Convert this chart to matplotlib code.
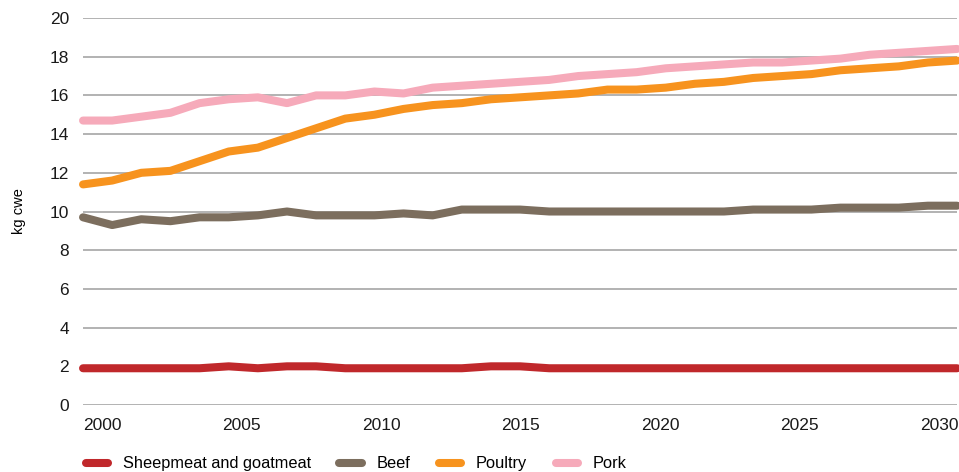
import numpy as np
import matplotlib.pyplot as plt

plt.rcParams['font.family'] = ['Liberation Sans', 'DejaVu Sans']

# Per capita meat consumption, kg cwe
years = list(range(2000, 2031))
sheep = [1.9, 1.9, 1.9, 1.9, 1.9, 2.0, 1.9, 2.0, 2.0, 1.9, 1.9, 1.9, 1.9, 1.9, 2.0, 2.0,
         1.9, 1.9, 1.9, 1.9, 1.9, 1.9, 1.9, 1.9, 1.9, 1.9, 1.9, 1.9, 1.9, 1.9, 1.9]
beef = [9.7, 9.3, 9.6, 9.5, 9.7, 9.7, 9.8, 10.0, 9.8, 9.8, 9.8, 9.9, 9.8, 10.1, 10.1, 10.1,
        10.0, 10.0, 10.0, 10.0, 10.0, 10.0, 10.0, 10.1, 10.1, 10.1, 10.2, 10.2, 10.2, 10.3, 10.3]
poultry = [11.4, 11.6, 12.0, 12.1, 12.6, 13.1, 13.3, 13.8, 14.3, 14.8, 15.0, 15.3, 15.5, 15.6, 15.8, 15.9,
           16.0, 16.1, 16.3, 16.3, 16.4, 16.6, 16.7, 16.9, 17.0, 17.1, 17.3, 17.4, 17.5, 17.7, 17.8]
pork = [14.7, 14.7, 14.9, 15.1, 15.6, 15.8, 15.9, 15.6, 16.0, 16.0, 16.2, 16.1, 16.4, 16.5, 16.6, 16.7,
        16.8, 17.0, 17.1, 17.2, 17.4, 17.5, 17.6, 17.7, 17.7, 17.8, 17.9, 18.1, 18.2, 18.3, 18.4]

series = [
    ('Sheepmeat and goatmeat', sheep, '#C0282B'),
    ('Beef', beef, '#7C6E5E'),
    ('Poultry', poultry, '#F7931E'),
    ('Pork', pork, '#F6AABA'),
]

tick_years = [2000, 2005, 2010, 2015, 2020, 2025, 2030]

fig = plt.figure(figsize=(9.59, 4.72), dpi=100)
ax = fig.add_axes([0.0866, 0.1419, 0.9114, 0.82])

for name, vals, col in series:
    ax.plot(years, vals, color=col, lw=5.8, solid_capstyle='round',
            solid_joinstyle='round', label=name, clip_on=False, zorder=3)

ax.set_xlim(2000, 2030)
ax.set_ylim(0, 20)
ax.set_yticks(range(0, 21, 2))
# labels in the original sit slightly off the data points
tick_pos = [2000.65 + 0.958 * (y - 2000) for y in tick_years]
ax.set_xticks(tick_pos, [str(y) for y in tick_years])

ax.grid(axis='y', color='#A6A6A6', lw=1.2)
ax.set_axisbelow(True)
for s in ax.spines.values():
    s.set_visible(False)
ax.tick_params(axis='both', length=0, labelsize=12.5, colors='#1a1a1a')
ax.tick_params(axis='y', pad=10)
ax.tick_params(axis='x', pad=9)
ax.set_ylabel('kg cwe', fontsize=10.5, labelpad=17)

leg = fig.legend(loc='lower left', bbox_to_anchor=(0.074, -0.03), ncol=4, frameon=False,
                 fontsize=11.8, handlelength=1.35, handletextpad=0.9, columnspacing=1.75)

fig.savefig('out.png', dpi=100)
